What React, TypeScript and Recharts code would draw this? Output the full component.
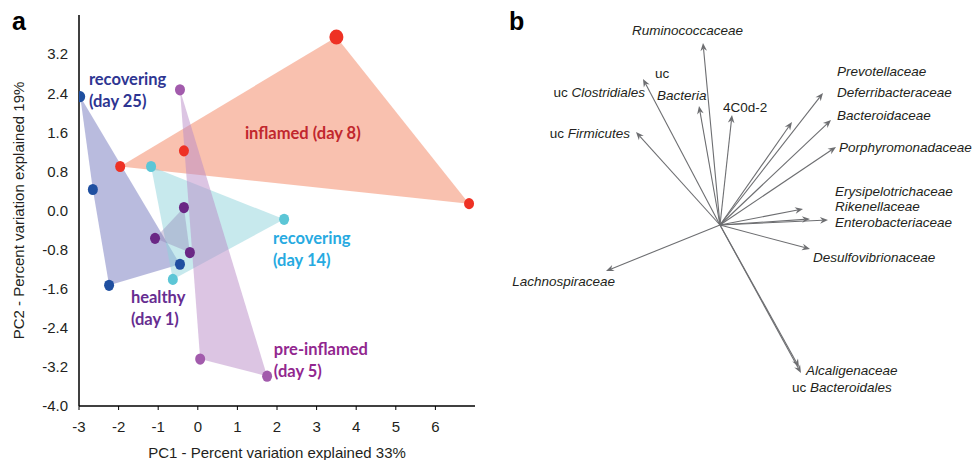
import React from 'react';
import { ScatterChart, Scatter, XAxis, YAxis, ReferenceLine } from 'recharts';

type Pt = { x: number; y: number };

// panel a - PCA scores (PC1, PC2) per stage
const recovering25: Pt[] = [
  { x: -2.97, y: 2.33 },
  { x: -2.65, y: 0.43 },
  { x: -2.24, y: -1.53 },
  { x: -0.45, y: -1.1 },
];
const inflamed: Pt[] = [
  { x: -1.96, y: 0.9 },
  { x: 3.5, y: 3.55 },
  { x: 6.85, y: 0.14 },
  { x: -0.35, y: 1.22 },
];
const recovering14: Pt[] = [
  { x: -1.18, y: 0.9 },
  { x: 2.18, y: -0.18 },
  { x: -0.63, y: -1.41 },
];
const healthy: Pt[] = [
  { x: -0.35, y: 0.06 },
  { x: -1.08, y: -0.57 },
  { x: -0.2, y: -0.86 },
];
const preInflamed: Pt[] = [
  { x: -0.45, y: 2.47 },
  { x: 0.06, y: -3.04 },
  { x: 1.75, y: -3.39 },
];

const xTicks = [-3, -2, -1, 0, 1, 2, 3, 4, 5, 6];
const yTicks = [-4.0, -3.2, -2.4, -1.6, -0.8, 0.0, 0.8, 1.6, 2.4, 3.2];

// where the stage names sit (PC units)
const stageLabels = [
  { id: 'r25', x: -2.75, y: 2.69, lines: ['recovering', '(day 25)'] },
  { id: 'inf', x: 1.19, y: 1.58, lines: ['inflamed (day 8)'] },
  { id: 'r14', x: 1.9, y: -0.56, lines: ['recovering', '(day 14)'] },
  { id: 'hea', x: -1.69, y: -1.77, lines: ['healthy', '(day 1)'] },
  { id: 'pre', x: 1.92, y: -2.83, lines: ['pre-inflamed', '(day 5)'] },
];

// panel b - taxa loadings
const loadings = [
  { name: 'Ruminococcaceae', x: -0.085, y: 0.91 },
  { name: 'uc Clostridiales', x: -0.385, y: 0.73 },
  { name: 'uc Bacteria', x: -0.105, y: 0.595 },
  { name: '4C0d-2', x: 0.06, y: 0.55 },
  { name: 'uc Firmicutes', x: -0.42, y: 0.465 },
  { name: 'Prevotellaceae', x: 0.515, y: 0.66 },
  { name: 'Deferribacteraceae', x: 0.36, y: 0.515 },
  { name: 'Bacteroidaceae', x: 0.555, y: 0.525 },
  { name: 'Porphyromonadaceae', x: 0.58, y: 0.39 },
  { name: 'Erysipelotrichaceae', x: 0.415, y: 0.08 },
  { name: 'Rikenellaceae', x: 0.45, y: 0.03 },
  { name: 'Enterobacteriaceae', x: 0.54, y: 0.025 },
  { name: 'Desulfovibrionaceae', x: 0.45, y: -0.12 },
  { name: 'Lachnospiraceae', x: -0.57, y: -0.23 },
  { name: 'Alcaligenaceae', x: 0.395, y: -0.71 },
  { name: 'uc Bacteroidales', x: 0.405, y: -0.74 },
];

// label anchors for the taxa (same units as loadings)
const taxonLabels = [
  { text: 'Ruminococcaceae', x: -0.44, y: 0.975, anchor: 'start' },
  { text: 'uc Clostridiales', x: -0.375, y: 0.665, anchor: 'end' },
  { text: 'uc', x: -0.325, y: 0.76, anchor: 'start' },
  { text: 'Bacteria', x: -0.315, y: 0.65, anchor: 'start' },
  { text: '4C0d-2', x: 0.015, y: 0.59, anchor: 'start' },
  { text: 'uc Firmicutes', x: -0.45, y: 0.46, anchor: 'end' },
  { text: 'Prevotellaceae', x: 0.585, y: 0.77, anchor: 'start' },
  { text: 'Deferribacteraceae', x: 0.585, y: 0.665, anchor: 'start' },
  { text: 'Bacteroidaceae', x: 0.585, y: 0.55, anchor: 'start' },
  { text: 'Porphyromonadaceae', x: 0.595, y: 0.39, anchor: 'start' },
  { text: 'Erysipelotrichaceae', x: 0.575, y: 0.17, anchor: 'start' },
  { text: 'Rikenellaceae', x: 0.575, y: 0.095, anchor: 'start' },
  { text: 'Enterobacteriaceae', x: 0.575, y: 0.015, anchor: 'start' },
  { text: 'Desulfovibrionaceae', x: 0.465, y: -0.16, anchor: 'start' },
  { text: 'Lachnospiraceae', x: -0.525, y: -0.28, anchor: 'end' },
  { text: 'Alcaligenaceae', x: 0.43, y: -0.725, anchor: 'start' },
  { text: 'uc Bacteroidales', x: 0.36, y: -0.81, anchor: 'start' },
];

const stageStyle: Record<string, { dot: string; fill: string; op: number; text: string }> = {
  inf: { dot: '#ee3124', fill: '#f4845f', op: 0.5, text: '#c1272d' },
  r25: { dot: '#1f4fa0', fill: '#7377bd', op: 0.5, text: '#2e3592' },
  r14: { dot: '#5cc6d6', fill: '#8fd3dc', op: 0.5, text: '#27aae1' },
  hea: { dot: '#6a2785', fill: '#8a78b0', op: 0.35, text: '#662d91' },
  pre: { dot: '#a25bac', fill: '#b98cc8', op: 0.5, text: '#92278f' },
};

const groups = [
  { id: 'inf', pts: inflamed },
  { id: 'r25', pts: recovering25 },
  { id: 'r14', pts: recovering14 },
  { id: 'hea', pts: healthy },
  { id: 'pre', pts: preInflamed },
];

const SANS = '"Liberation Sans", Arial, sans-serif';
const LABEL_FONT = 'Lato, "Open Sans", sans-serif';

// convex hull (monotone chain) so the shaded area wraps each group
const hull = (pts: Pt[]) => {
  const p = [...pts].sort((a, b) => a.x - b.x || a.y - b.y);
  const cross = (o: Pt, a: Pt, b: Pt) => (a.x - o.x) * (b.y - o.y) - (a.y - o.y) * (b.x - o.x);
  const lower: Pt[] = [];
  for (const q of p) {
    while (lower.length >= 2 && cross(lower[lower.length - 2], lower[lower.length - 1], q) <= 0) lower.pop();
    lower.push(q);
  }
  const upper: Pt[] = [];
  for (const q of [...p].reverse()) {
    while (upper.length >= 2 && cross(upper[upper.length - 2], upper[upper.length - 1], q) <= 0) upper.pop();
    upper.push(q);
  }
  return lower.slice(0, -1).concat(upper.slice(0, -1));
};

const StageLabel = (props: any) => {
  const { cx, cy, payload } = props;
  const st = stageStyle[payload.id];
  return (
    <text x={cx} y={cy} fill={st.text} fontFamily={LABEL_FONT} fontWeight={700} fontSize={16.5}>
      {payload.lines.map((l: string, i: number) => (
        <tspan key={i} x={cx} dy={i === 0 ? '0.35em' : 22}>
          {l}
        </tspan>
      ))}
    </text>
  );
};

const upright = ['uc', '4C0d-2'];

const TaxonLabel = (props: any) => {
  const { cx, cy, payload } = props;
  const t: string = payload.text;
  let parts;
  if (upright.includes(t)) {
    parts = <tspan>{t}</tspan>;
  } else if (t.startsWith('uc ')) {
    parts = (
      <>
        <tspan>uc </tspan>
        <tspan fontStyle="italic">{t.slice(3)}</tspan>
      </>
    );
  } else {
    parts = <tspan fontStyle="italic">{t}</tspan>;
  }
  return (
    <text x={cx} y={cy} dy="0.35em" textAnchor={payload.anchor} fontSize={13.5} fontFamily={SANS} fill="#231f20">
      {parts}
    </text>
  );
};

const Arrow = (props: any) => {
  const { x1, y1, x2, y2 } = props;
  const a = Math.atan2(y2 - y1, x2 - x1);
  const ux = Math.cos(a);
  const uy = Math.sin(a);
  const nx = -uy;
  const ny = ux;
  const L = 8, W = 3.3, back = 5.5;
  const bx = x2 - ux * L;
  const by = y2 - uy * L;
  const head = [
    [x2, y2],
    [bx + nx * W, by + ny * W],
    [x2 - ux * back, y2 - uy * back],
    [bx - nx * W, by - ny * W],
  ]
    .map((q) => q.join(','))
    .join(' ');
  return (
    <g>
      <line x1={x1} y1={y1} x2={x2 - ux * back} y2={y2 - uy * back} stroke="#6d6e71" strokeWidth={1.1} />
      <polygon points={head} fill="#6d6e71" />
    </g>
  );
};

const App = () => {
  return (
    <div style={{ position: 'absolute', left: 0, top: 0, width: 975, height: 460, background: '#fff' }}>
      <div style={{ position: 'absolute', left: 0, top: 0 }}>
        <ScatterChart width={500} height={460} margin={{ top: 15, right: 25, bottom: 24, left: 0 }} style={{ fontFamily: SANS }}>
          <XAxis
            type="number"
            dataKey="x"
            domain={[-3, 7]}
            ticks={xTicks}
            interval={0}
            allowDataOverflow
            height={30}
            tickSize={4}
            tickMargin={11}
            axisLine={{ stroke: '#000', strokeWidth: 1.5 }}
            tickLine={{ stroke: '#000' }}
            tick={{ fontSize: 15, fill: '#231f20' }}
            label={{ value: 'PC1 - Percent variation explained 33%', position: 'bottom', offset: 11, fontSize: 15, fill: '#231f20' }}
          />
          <YAxis
            type="number"
            dataKey="y"
            domain={[-4, 4]}
            ticks={yTicks}
            interval={0}
            allowDataOverflow
            width={79}
            tickSize={6}
            tickMargin={5}
            tickLine={false}
            axisLine={{ stroke: '#000', strokeWidth: 1.5 }}
            tick={{ fontSize: 15, fill: '#231f20' }}
            tickFormatter={(v: number) => v.toFixed(1)}
            label={{
              value: 'PC2 - Percent variation explained 19%',
              angle: -90,
              position: 'insideLeft',
              offset: 19,
              fontSize: 15,
              fill: '#231f20',
              style: { textAnchor: 'middle' },
            }}
          />
          {groups.map((g) => (
            <Scatter
              key={'hull-' + g.id}
              data={hull(g.pts)}
              line={{ fill: stageStyle[g.id].fill, fillOpacity: stageStyle[g.id].op, stroke: 'none' }}
              lineJointType="linearClosed"
              shape={() => <g />}
              isAnimationActive={false}
            />
          ))}
          {groups.map((g) => (
            <Scatter
              key={'pts-' + g.id}
              data={g.pts}
              isAnimationActive={false}
              shape={(p: any) => {
                const big = g.id === 'inf' && p.payload && p.payload.y === Math.max(...inflamed.map((d) => d.y));
                return (
                  <ellipse cx={p.cx} cy={p.cy} rx={big ? 7 : 5} ry={big ? 7.5 : 5.6} fill={stageStyle[g.id].dot} />
                );
              }}
            />
          ))}
          <Scatter data={stageLabels} shape={StageLabel} isAnimationActive={false} />
        </ScatterChart>
      </div>
      <div style={{ position: 'absolute', left: 500, top: 0 }}>
        <ScatterChart width={475} height={460} margin={{ top: 0, right: 0, bottom: 0, left: 0 }}>
          <XAxis type="number" dataKey="x" domain={[-1.1, 1.275]} hide allowDataOverflow />
          <YAxis type="number" dataKey="y" domain={[-1.175, 1.125]} hide allowDataOverflow />
          {loadings.map((l) => (
            <ReferenceLine
              key={l.name}
              segment={[
                { x: 0, y: 0 },
                { x: l.x, y: l.y },
              ]}
              ifOverflow="visible"
              shape={Arrow}
            />
          ))}
          <Scatter data={taxonLabels} shape={TaxonLabel} isAnimationActive={false} />
        </ScatterChart>
      </div>
      <svg width={975} height={460} style={{ position: 'absolute', left: 0, top: 0, pointerEvents: 'none' }}>
        <text x={12} y={30} fontFamily={SANS} fontWeight={700} fontSize={25} fill="#000">
          a
        </text>
        <text x={509} y={30} fontFamily={SANS} fontWeight={700} fontSize={25} fill="#000">
          b
        </text>
      </svg>
    </div>
  );
};

export default App;
